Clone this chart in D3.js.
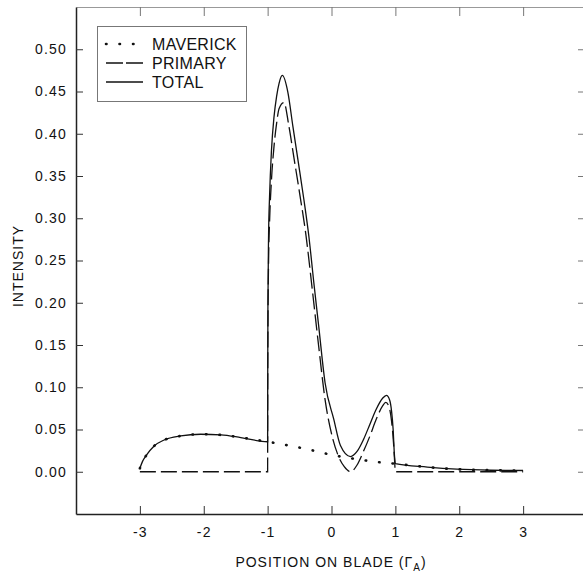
<!DOCTYPE html>
<html>
<head>
<meta charset="utf-8">
<script src="https://cdn.jsdelivr.net/npm/d3@7"></script>
<style>
  body { margin: 0; background: #fff; }
  svg { display: block; font-family: "Liberation Sans", Arial, sans-serif; }
</style>
</head>
<body>
<div id="chart"></div>
<script>
// values: [position, intensity]
const maverick = [
  [-3.0, 0.004], [-2.96, 0.012], [-2.906, 0.0187], [-2.777, 0.0305], [-2.62, 0.0376],
  [-2.36, 0.0424], [-2.05, 0.0444], [-1.73, 0.0436], [-1.42, 0.0405], [-1.0, 0.0355],
  [-0.43, 0.0275], [0.036, 0.0195], [0.4, 0.0148], [0.71, 0.0116], [1.0, 0.0095],
  [1.5, 0.0055], [1.96, 0.003], [2.5, 0.0018], [3.0, 0.0015]
];
const primary = [
  [-3.0, 0.0], [-1.0, 0.0], [-0.999, 0.07], [-0.995, 0.17], [-0.985, 0.25],
  [-0.97, 0.295], [-0.94, 0.345], [-0.9, 0.385], [-0.86, 0.412], [-0.82, 0.43],
  [-0.745, 0.437], [-0.667, 0.409], [-0.589, 0.372], [-0.5, 0.33], [-0.4, 0.28],
  [-0.3, 0.215], [-0.2, 0.148], [-0.1, 0.085], [0.0, 0.045], [0.1, 0.02],
  [0.2, 0.006], [0.3, 0.0], [0.4, 0.008], [0.5, 0.024], [0.6, 0.042],
  [0.7, 0.062], [0.8, 0.078], [0.85, 0.082], [0.9, 0.077], [0.94, 0.06],
  [0.97, 0.035], [0.99, 0.01], [0.998, 0.0], [3.0, 0.0]
];
const total = [
  [-3.0, 0.004], [-2.96, 0.012], [-2.906, 0.0187], [-2.777, 0.0305], [-2.62, 0.0376],
  [-2.36, 0.0424], [-2.05, 0.0444], [-1.73, 0.0436], [-1.42, 0.0405], [-1.0, 0.0355],
  [-0.999, 0.1], [-0.995, 0.2], [-0.985, 0.28], [-0.97, 0.325], [-0.94, 0.38],
  [-0.9, 0.42], [-0.86, 0.444], [-0.82, 0.46], [-0.77, 0.469], [-0.683, 0.449],
  [-0.605, 0.409], [-0.527, 0.37], [-0.433, 0.3225], [-0.355, 0.279], [-0.277, 0.224],
  [-0.2, 0.172], [-0.1, 0.105], [0.036, 0.062], [0.14, 0.031], [0.297, 0.018],
  [0.4, 0.024], [0.5, 0.038], [0.6, 0.056], [0.7, 0.074], [0.8, 0.087],
  [0.86, 0.0905], [0.91, 0.085], [0.94, 0.072], [0.965, 0.05], [0.985, 0.02],
  [1.0, 0.0095], [1.5, 0.0055], [1.96, 0.003], [2.5, 0.0018], [3.0, 0.0015]
];
const xTicks = [-3, -2, -1, 0, 1, 2, 3];
const yTicks = [0, 0.05, 0.1, 0.15, 0.2, 0.25, 0.3, 0.35, 0.4, 0.45, 0.5];
const legendNames = ["MAVERICK", "PRIMARY", "TOTAL"];

const W = 583, H = 573;
const margin = {top: 7, right: -4, bottom: 59, left: 76};

const svg = d3.select("#chart").append("svg")
    .attr("width", W)
    .attr("height", H);

const x = d3.scaleLinear().domain([-4, 4]).range([margin.left, W - margin.right]);
const y = d3.scaleLinear().domain([-0.05, 0.55]).range([H - margin.bottom, margin.top]);

// frame: top and right are light, left and bottom dark
const topAxis = svg.append("g")
    .attr("transform", `translate(0,${margin.top})`)
    .call(d3.axisTop(x).tickValues(xTicks).tickSizeInner(-9).tickSizeOuter(0).tickFormat(""));
topAxis.select(".domain").attr("stroke", "#999");
topAxis.selectAll(".tick line").attr("stroke", "#777");

const rightAxis = svg.append("g")
    .attr("transform", `translate(${W - margin.right},0)`)
    .call(d3.axisRight(y).tickValues(yTicks).tickSizeInner(-9).tickSizeOuter(0).tickFormat(""));
rightAxis.selectAll(".tick line").attr("stroke", "#777");

const xAxis = svg.append("g")
    .attr("transform", `translate(0,${H - margin.bottom})`)
    .call(d3.axisBottom(x).tickValues(xTicks).tickSizeInner(-8).tickSizeOuter(0)
        .tickPadding(13).tickFormat(d3.format("d")));

const yAxis = svg.append("g")
    .attr("transform", `translate(${margin.left},0)`)
    .call(d3.axisLeft(y).tickValues(yTicks).tickSizeInner(-7).tickSizeOuter(0)
        .tickPadding(9).tickFormat(d3.format(".2f")));

[xAxis, yAxis].forEach(a => {
  a.select(".domain").attr("stroke", "#222").attr("stroke-width", 1.5);
  a.selectAll(".tick line").attr("stroke", "#333");
  a.selectAll(".tick text")
    .attr("fill", "#111")
    .style("font-size", "14px")
    .style("letter-spacing", "1.2px");
});
xAxis.selectAll(".tick text").text(d => d < 0 ? "-" + Math.abs(d) : d);

// axis titles
const xt = svg.append("text")
    .attr("x", 331)
    .attr("y", 567)
    .attr("text-anchor", "middle")
    .attr("fill", "#111")
    .style("font-size", "14px")
    .style("letter-spacing", "1px");
xt.append("tspan").text("POSITION ON BLADE (Γ");
xt.append("tspan").attr("dy", 4).style("font-size", "10px").text("A");
xt.append("tspan").attr("dy", -4).text(")");

svg.append("text")
    .attr("transform", "translate(23,266) rotate(-90)")
    .attr("text-anchor", "middle")
    .attr("fill", "#111")
    .style("font-size", "14px")
    .style("letter-spacing", "1px")
    .text("INTENSITY");

// curves
const line = d3.line()
    .x(d => x(d[0]))
    .y(d => y(d[1]))
    .curve(d3.curveMonotoneX);

svg.append("path")
    .datum(total)
    .attr("fill", "none")
    .attr("stroke", "#111")
    .attr("stroke-width", 1.3)
    .attr("d", line);

svg.append("path")
    .datum(primary)
    .attr("fill", "none")
    .attr("stroke", "#111")
    .attr("stroke-width", 1.3)
    .style("stroke-dasharray", "16,5")
    .attr("d", line);

svg.append("path")
    .datum(maverick)
    .attr("fill", "none")
    .attr("stroke", "#111")
    .attr("stroke-width", 2.6)
    .attr("stroke-linecap", "round")
    .style("stroke-dasharray", "0.5,13")
    .attr("d", line);

// legend
const legend = svg.append("g");
legend.append("rect")
    .attr("x", 97.5).attr("y", 26.5)
    .attr("width", 149).attr("height", 75)
    .attr("fill", "#fff")
    .attr("stroke", "#777");

const legendStyles = [
  {dash: "0.5,13", width: 2.6, cap: "round"},
  {dash: "17,3", width: 1.3, cap: "butt"},
  {dash: null, width: 1.3, cap: "butt"}
];
legendNames.forEach((name, i) => {
  const ly = 44 + i * 19;
  legend.append("line")
    .attr("x1", 106).attr("x2", 143)
    .attr("y1", ly).attr("y2", ly)
    .attr("stroke", "#111")
    .attr("stroke-width", legendStyles[i].width)
    .attr("stroke-linecap", legendStyles[i].cap)
    .style("stroke-dasharray", legendStyles[i].dash);
  legend.append("text")
    .attr("x", 152)
    .attr("y", ly)
    .attr("dy", "0.36em")
    .attr("fill", "#111")
    .style("font-size", "16px")
    .style("letter-spacing", "0.3px")
    .text(name);
});
</script>
</body>
</html>
